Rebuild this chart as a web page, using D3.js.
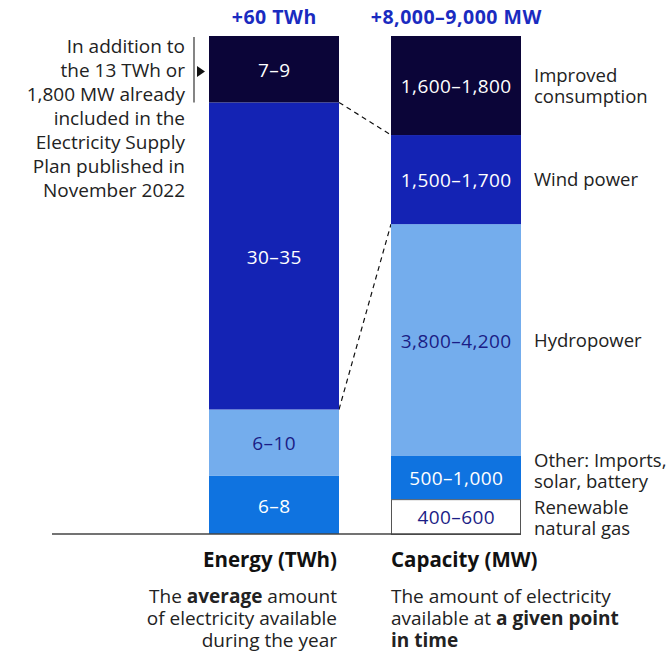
<!DOCTYPE html>
<html>
<head>
<meta charset="utf-8">
<script src="https://cdn.jsdelivr.net/npm/d3@7"></script>
<style>
  body { margin: 0; background: #fff; }
  svg { display: block; font-family: "Open Sans", "Noto Sans", sans-serif; }
</style>
</head>
<body>
<svg id="chart" width="671" height="652"></svg>
<script>
// Segment keys, bottom to top
const segments = ['other', 'hydro', 'wind', 'consumption'];
const capSegments = ['rng', 'other', 'hydro', 'wind', 'consumption'];

// Energy (TWh) - bar heights, labels as printed
const energyValues = [7, 8, 37, 8];
const energyLabels = ['6–8', '6–10', '30–35', '7–9'];

// Capacity (MW)
const capacityValues = [630, 780, 4190, 1610, 1790];
const capacityLabels = ['400–600', '500–1,000', '3,800–4,200', '1,500–1,700', '1,600–1,800'];
const capacityNames = [
  ['Renewable', 'natural gas'],
  ['Other: Imports,', 'solar, battery'],
  ['Hydropower'],
  ['Wind power'],
  ['Improved', 'consumption']
];

const totals = ['+60 TWh', '+8,000–9,000 MW'];
const bars = ['Energy (TWh)', 'Capacity (MW)'];

const fills = { consumption: '#0b0538', wind: '#1423b4', hydro: '#74aded', other: '#0f73e0', rng: '#ffffff' };
const inks = { consumption: '#fff', wind: '#fff', hydro: '#1b1d86', other: '#fff', rng: '#1b1d86' };
// small nudges so the side names don't collide
const nameShift = { consumption: 0.5, wind: 0, hydro: 0, other: -7, rng: 1 };

const svg = d3.select('#chart');
const barTop = 36, base = 534;

const x = d3.scaleBand().domain(bars).range([209, 521]).paddingInner(0.2857).paddingOuter(0);
const yE = d3.scaleLinear().domain([0, 60]).range([base, barTop]);
const yC = d3.scaleLinear().domain([0, 9000]).range([base, barTop]);

function stackUp(values, keys) {
  let acc = 0;
  return values.map((v, i) => {
    const d = { key: keys[i], y0: acc, y1: acc + v, i };
    acc += v;
    return d;
  });
}

const eStack = stackUp(energyValues, segments);
const cStack = stackUp(capacityValues, capSegments);

// dashed connectors between the wind segments
const eWind = eStack.find(d => d.key === 'wind');
const cWind = cStack.find(d => d.key === 'wind');
const xr = x(bars[0]) + x.bandwidth();
const xl = x(bars[1]);
['y1', 'y0'].forEach(k => {
  svg.append('line')
    .attr('x1', xr).attr('y1', yE(eWind[k]))
    .attr('x2', xl).attr('y2', yC(cWind[k]))
    .attr('stroke', '#111').attr('stroke-width', 1.2)
    .attr('stroke-dasharray', '5,4');
});

// energy bar
const eg = svg.append('g');
eg.selectAll('rect').data(eStack).enter().append('rect')
  .attr('x', x(bars[0])).attr('width', x.bandwidth())
  .attr('y', d => yE(d.y1)).attr('height', d => yE(d.y0) - yE(d.y1))
  .attr('fill', d => fills[d.key]);
eg.selectAll('text').data(eStack).enter().append('text')
  .attr('x', x(bars[0]) + x.bandwidth() / 2 + 0.2)
  .attr('y', d => (yE(d.y0) + yE(d.y1)) / 2)
  .attr('dy', '0.4em').attr('text-anchor', 'middle')
  .attr('font-size', 19).attr('letter-spacing', 0.4).attr('fill', d => inks[d.key])
  .text(d => energyLabels[d.i]);

// capacity bar
const cg = svg.append('g');
cg.selectAll('rect').data(cStack).enter().append('rect')
  .attr('x', d => x(bars[1]) + (d.key === 'rng' ? 0.5 : 0))
  .attr('width', d => x.bandwidth() - (d.key === 'rng' ? 1 : 0))
  .attr('y', d => yC(d.y1) + (d.key === 'rng' ? 0.5 : 0))
  .attr('height', d => yC(d.y0) - yC(d.y1))
  .attr('fill', d => fills[d.key])
  .attr('stroke', d => d.key === 'rng' ? '#555' : 'none');
cg.selectAll('text.val').data(cStack).enter().append('text')
  .attr('class', 'val')
  .attr('x', x(bars[1]) + x.bandwidth() / 2 + 0.2)
  .attr('y', d => (yC(d.y0) + yC(d.y1)) / 2)
  .attr('dy', '0.4em').attr('text-anchor', 'middle')
  .attr('font-size', 19).attr('letter-spacing', 0.4).attr('fill', d => inks[d.key])
  .text(d => capacityLabels[d.i]);

// names at the right
const nameX = x(bars[1]) + x.bandwidth() + 13;
const names = cg.selectAll('text.name').data(cStack).enter().append('text')
  .attr('class', 'name')
  .attr('font-size', 18.5).attr('fill', '#222');
names.each(function(d) {
  const lines = capacityNames[d.i];
  const mid = (yC(d.y0) + yC(d.y1)) / 2 + nameShift[d.key];
  const lh = 21;
  lines.forEach((l, k) => {
    d3.select(this).append('tspan')
      .attr('x', nameX)
      .attr('y', mid + (k - (lines.length - 1) / 2) * lh)
      .attr('dy', '0.35em')
      .text(l);
  });
});

// totals on top
svg.selectAll('text.total').data(bars).enter().append('text')
  .attr('class', 'total')
  .attr('x', d => x(d) + x.bandwidth() / 2 + 0.3)
  .attr('y', 24).attr('text-anchor', 'middle')
  .attr('font-size', 19.5).attr('font-weight', 'bold').attr('letter-spacing', 0.5)
  .attr('fill', '#1a2bc0')
  .text((d, i) => totals[i]);

// baseline
svg.append('line')
  .attr('x1', 52).attr('x2', x(bars[1]) + x.bandwidth())
  .attr('y1', base).attr('y2', base)
  .attr('stroke', '#444').attr('stroke-width', 1.5);

// left note
const note = ['In addition to', 'the 13 TWh or', '1,800 MW already', 'included in the',
  'Electricity Supply', 'Plan published in', 'November 2022'];
svg.append('text').attr('font-size', 19).attr('fill', '#222').attr('text-anchor', 'end')
  .selectAll('tspan').data(note).enter().append('tspan')
  .attr('x', 185).attr('y', (d, i) => 46.3 + i * 23.95).attr('dy', '0.35em')
  .text(d => d);
svg.append('line').attr('x1', 194).attr('x2', 194).attr('y1', 37).attr('y2', yE(eWind.y1))
  .attr('stroke', '#333').attr('stroke-width', 1.2);
svg.append('path').attr('d', 'M197,66 L205,71.5 L197,77 Z').attr('fill', '#111');

// bar titles
svg.append('text').attr('x', x(bars[0]) + x.bandwidth() - 2).attr('y', 559.5).attr('dy', '0.35em')
  .attr('text-anchor', 'end').attr('font-size', 20.5).attr('font-weight', 'bold').attr('fill', '#111')
  .text(bars[0]);
svg.append('text').attr('x', x(bars[1])).attr('y', 559.5).attr('dy', '0.35em')
  .attr('font-size', 20.5).attr('font-weight', 'bold').attr('fill', '#111')
  .text(bars[1]);

// descriptions
const descE = [[['The ', 0], ['average', 1], [' amount', 0]], [['of electricity available', 0]], [['during the year', 0]]];
const descC = [[['The amount of electricity', 0]], [['available at ', 0], ['a given point', 1]], [['in time', 1]]];
function desc(lines, xPos, anchor) {
  lines.forEach((parts, i) => {
    const t = svg.append('text').attr('x', xPos).attr('y', 596 + i * 22).attr('dy', '0.35em')
      .attr('text-anchor', anchor).attr('font-size', 19).attr('fill', '#222');
    parts.forEach(p => t.append('tspan').attr('font-weight', p[1] ? 'bold' : 'normal').text(p[0]));
  });
}
desc(descE, x(bars[0]) + x.bandwidth() - 2, 'end');
desc(descC, x(bars[1]), 'start');
</script>
</body>
</html>
